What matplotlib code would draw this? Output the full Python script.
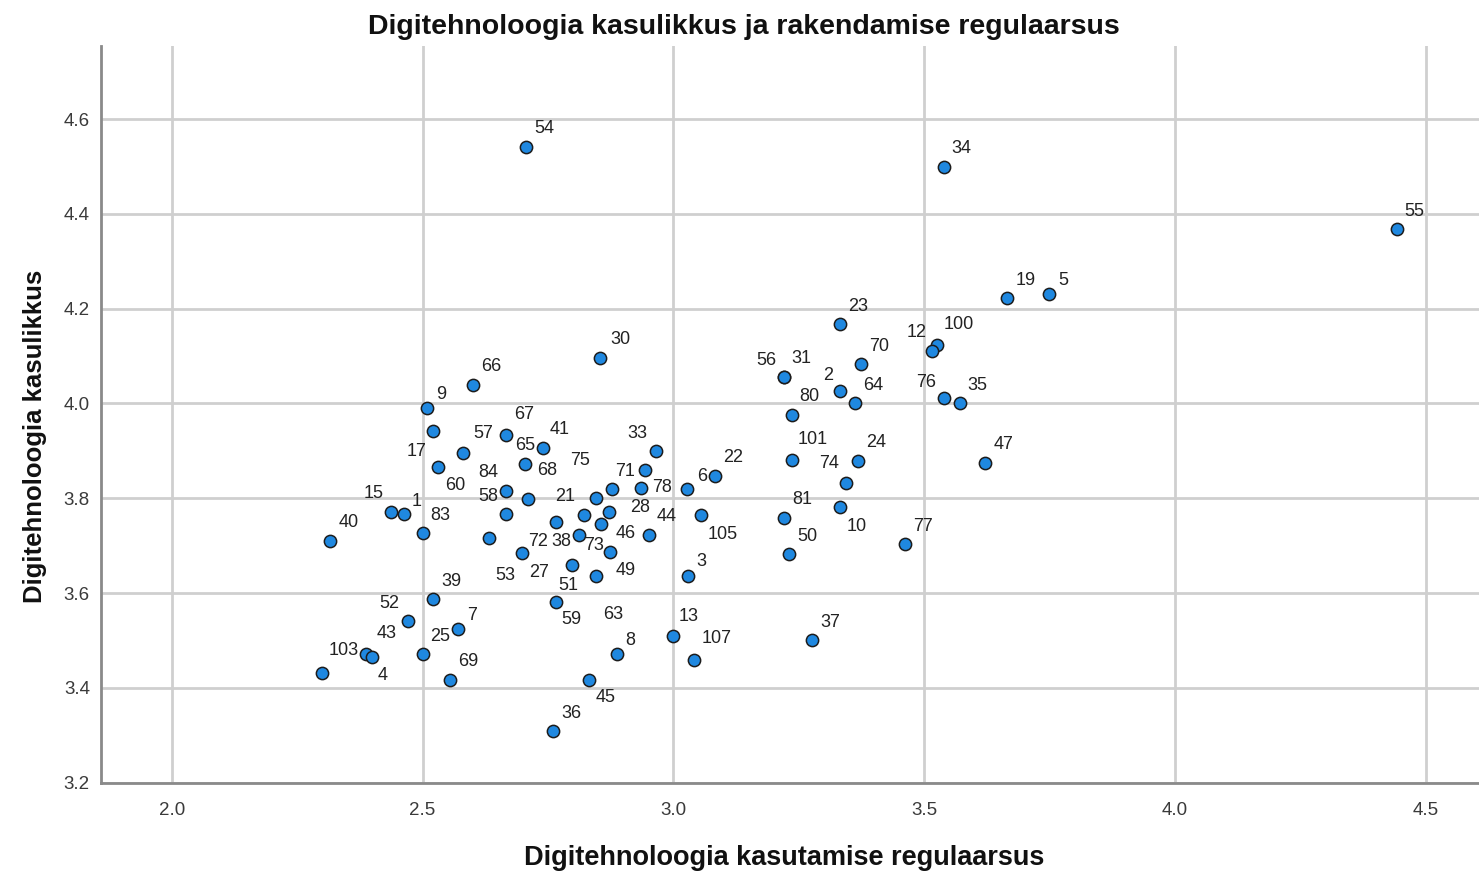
import matplotlib
matplotlib.use("Agg")
import matplotlib.pyplot as plt

# case ids, usage regularity (x) and usefulness (y)
case_ids = ["54", "34", "55", "19", "5", "23", "100", "12", "70", "56", "31", "2", "64", "80",
            "76", "35", "30", "66", "9", "17", "57", "67", "41", "60", "65", "84", "68", "58",
            "27", "15", "1", "83", "40", "53", "72", "51", "38", "33", "78", "71", "28", "75",
            "6", "22", "21", "46", "73", "105", "44", "49", "63", "3", "59", "39", "52", "7",
            "25", "43", "4", "103", "69", "36", "13", "8", "107", "45", "101", "24", "74", "47",
            "81", "10", "50", "77", "37"]
usage = [2.706, 3.539, 4.442, 3.666, 3.749, 3.332, 3.525, 3.516, 3.374, 3.221, 3.221, 3.332,
         3.362, 3.236, 3.540, 3.571, 2.854, 2.601, 2.508, 2.521, 2.581, 2.666, 2.740, 2.531,
         2.704, 2.666, 2.710, 2.666, 2.766, 2.437, 2.462, 2.500, 2.316, 2.633, 2.698, 2.797,
         2.812, 2.965, 2.943, 2.878, 2.935, 2.845, 3.027, 3.083, 2.822, 2.872, 2.856, 3.056,
         2.951, 2.874, 2.846, 3.030, 2.766, 2.521, 2.470, 2.571, 2.500, 2.387, 2.400, 2.299,
         2.555, 2.761, 2.999, 2.887, 3.041, 2.832, 3.236, 3.369, 3.345, 3.622, 3.221, 3.332,
         3.231, 3.462, 3.277]
usefulness = [4.541, 4.499, 4.368, 4.222, 4.230, 4.167, 4.123, 4.111, 4.083, 4.055, 4.055, 4.026,
              4.000, 3.976, 4.011, 4.000, 4.096, 4.039, 3.990, 3.941, 3.896, 3.934, 3.907, 3.867,
              3.872, 3.815, 3.798, 3.767, 3.749, 3.772, 3.766, 3.726, 3.710, 3.717, 3.684, 3.660,
              3.723, 3.900, 3.860, 3.819, 3.822, 3.801, 3.819, 3.847, 3.765, 3.770, 3.745, 3.765,
              3.723, 3.687, 3.637, 3.637, 3.582, 3.587, 3.541, 3.524, 3.471, 3.472, 3.466, 3.432,
              3.417, 3.309, 3.509, 3.471, 3.459, 3.417, 3.881, 3.879, 3.833, 3.875, 3.759, 3.781,
              3.682, 3.703, 3.500]

x_ticks = [2.0, 2.5, 3.0, 3.5, 4.0, 4.5]
y_ticks = [3.2, 3.4, 3.6, 3.8, 4.0, 4.2, 4.4, 4.6]

# label placement (pixels, right/down) where it is not the usual upper right
default_off = (18, -18)
label_off = {
    "5": (14, -14), "100": (22, -21), "12": (-16, -18), "56": (-18, -17), "31": (17, -19),
    "2": (-12, -16), "76": (-18, -16), "30": (20, -18), "9": (15, -14), "17": (-17, 20),
    "57": (20, -19), "67": (18, -20), "41": (17, -18), "60": (17, 19), "65": (0, -19),
    "84": (-18, -19), "68": (19, -29), "58": (-18, -17), "27": (-17, 50), "15": (-17, -18),
    "1": (13, -13), "53": (16, 38), "72": (16, -12), "51": (-3, 21), "38": (-18, 7),
    "33": (-18, -17), "78": (17, 18), "71": (13, -18), "28": (-1, 20), "75": (-16, -37),
    "6": (15, -13), "21": (-19, -18), "46": (17, 21), "73": (-7, 21), "105": (21, 20),
    "49": (16, 19), "63": (17, 39), "3": (13, -14), "59": (15, 18), "7": (14, -14),
    "43": (21, -20), "4": (10, 19), "103": (22, -22), "13": (16, -20), "8": (14, -14),
    "107": (23, -21), "45": (17, 18), "101": (21, -20), "74": (-17, -19), "10": (17, 19),
    "52": (-18, -18),
}

plt.rcParams["font.family"] = ["Liberation Sans", "DejaVu Sans"]

fig = plt.figure(figsize=(14.79, 8.75), dpi=100)
ax = fig.add_axes([0.0683, 0.1055, 0.9317, 0.8419])

ax.scatter(usage, usefulness, s=78, color="#1f88e0", edgecolors="#1c1c1c",
           linewidths=1.1, zorder=3)

for cid, xv, yv in zip(case_ids, usage, usefulness):
    dx, dy = label_off.get(cid, default_off)
    ax.annotate(cid, (xv, yv), xytext=(dx, -dy), textcoords="offset pixels",
                ha="center", va="center", fontsize=13, color="#222222", zorder=4)

ax.set_xlim(1.859, 4.606)
ax.set_ylim(3.2, 4.754)
ax.set_xticks(x_ticks)
ax.set_yticks(y_ticks)
ax.set_xticklabels([f"{t:.1f}" for t in x_ticks])
ax.set_yticklabels([f"{t:.1f}" for t in y_ticks])
ax.tick_params(length=0, labelsize=13.5, labelcolor="#3a3a3a")
ax.tick_params(axis="x", pad=14)
ax.tick_params(axis="y", pad=8)

ax.grid(True, color="#cfcfcf", linewidth=2)
ax.set_axisbelow(True)
for side in ["top", "right"]:
    ax.spines[side].set_visible(False)
for side in ["left", "bottom"]:
    ax.spines[side].set_color("#8a8a8a")
    ax.spines[side].set_linewidth(2)

fig.text(0.503, 0.969, "Digitehnoloogia kasulikkus ja rakendamise regulaarsus",
         ha="center", va="center", fontsize=20.5, fontweight="bold", color="#111111")
fig.text(0.5304, 0.0194, "Digitehnoloogia kasutamise regulaarsus",
         ha="center", va="center", fontsize=19.5, fontweight="bold", color="#111111")
fig.text(0.0237, 0.501, "Digitehnoloogia kasulikkus", rotation=90,
         ha="center", va="center", fontsize=18.5, fontweight="bold", color="#111111")

fig.savefig("out.png", dpi=100)
